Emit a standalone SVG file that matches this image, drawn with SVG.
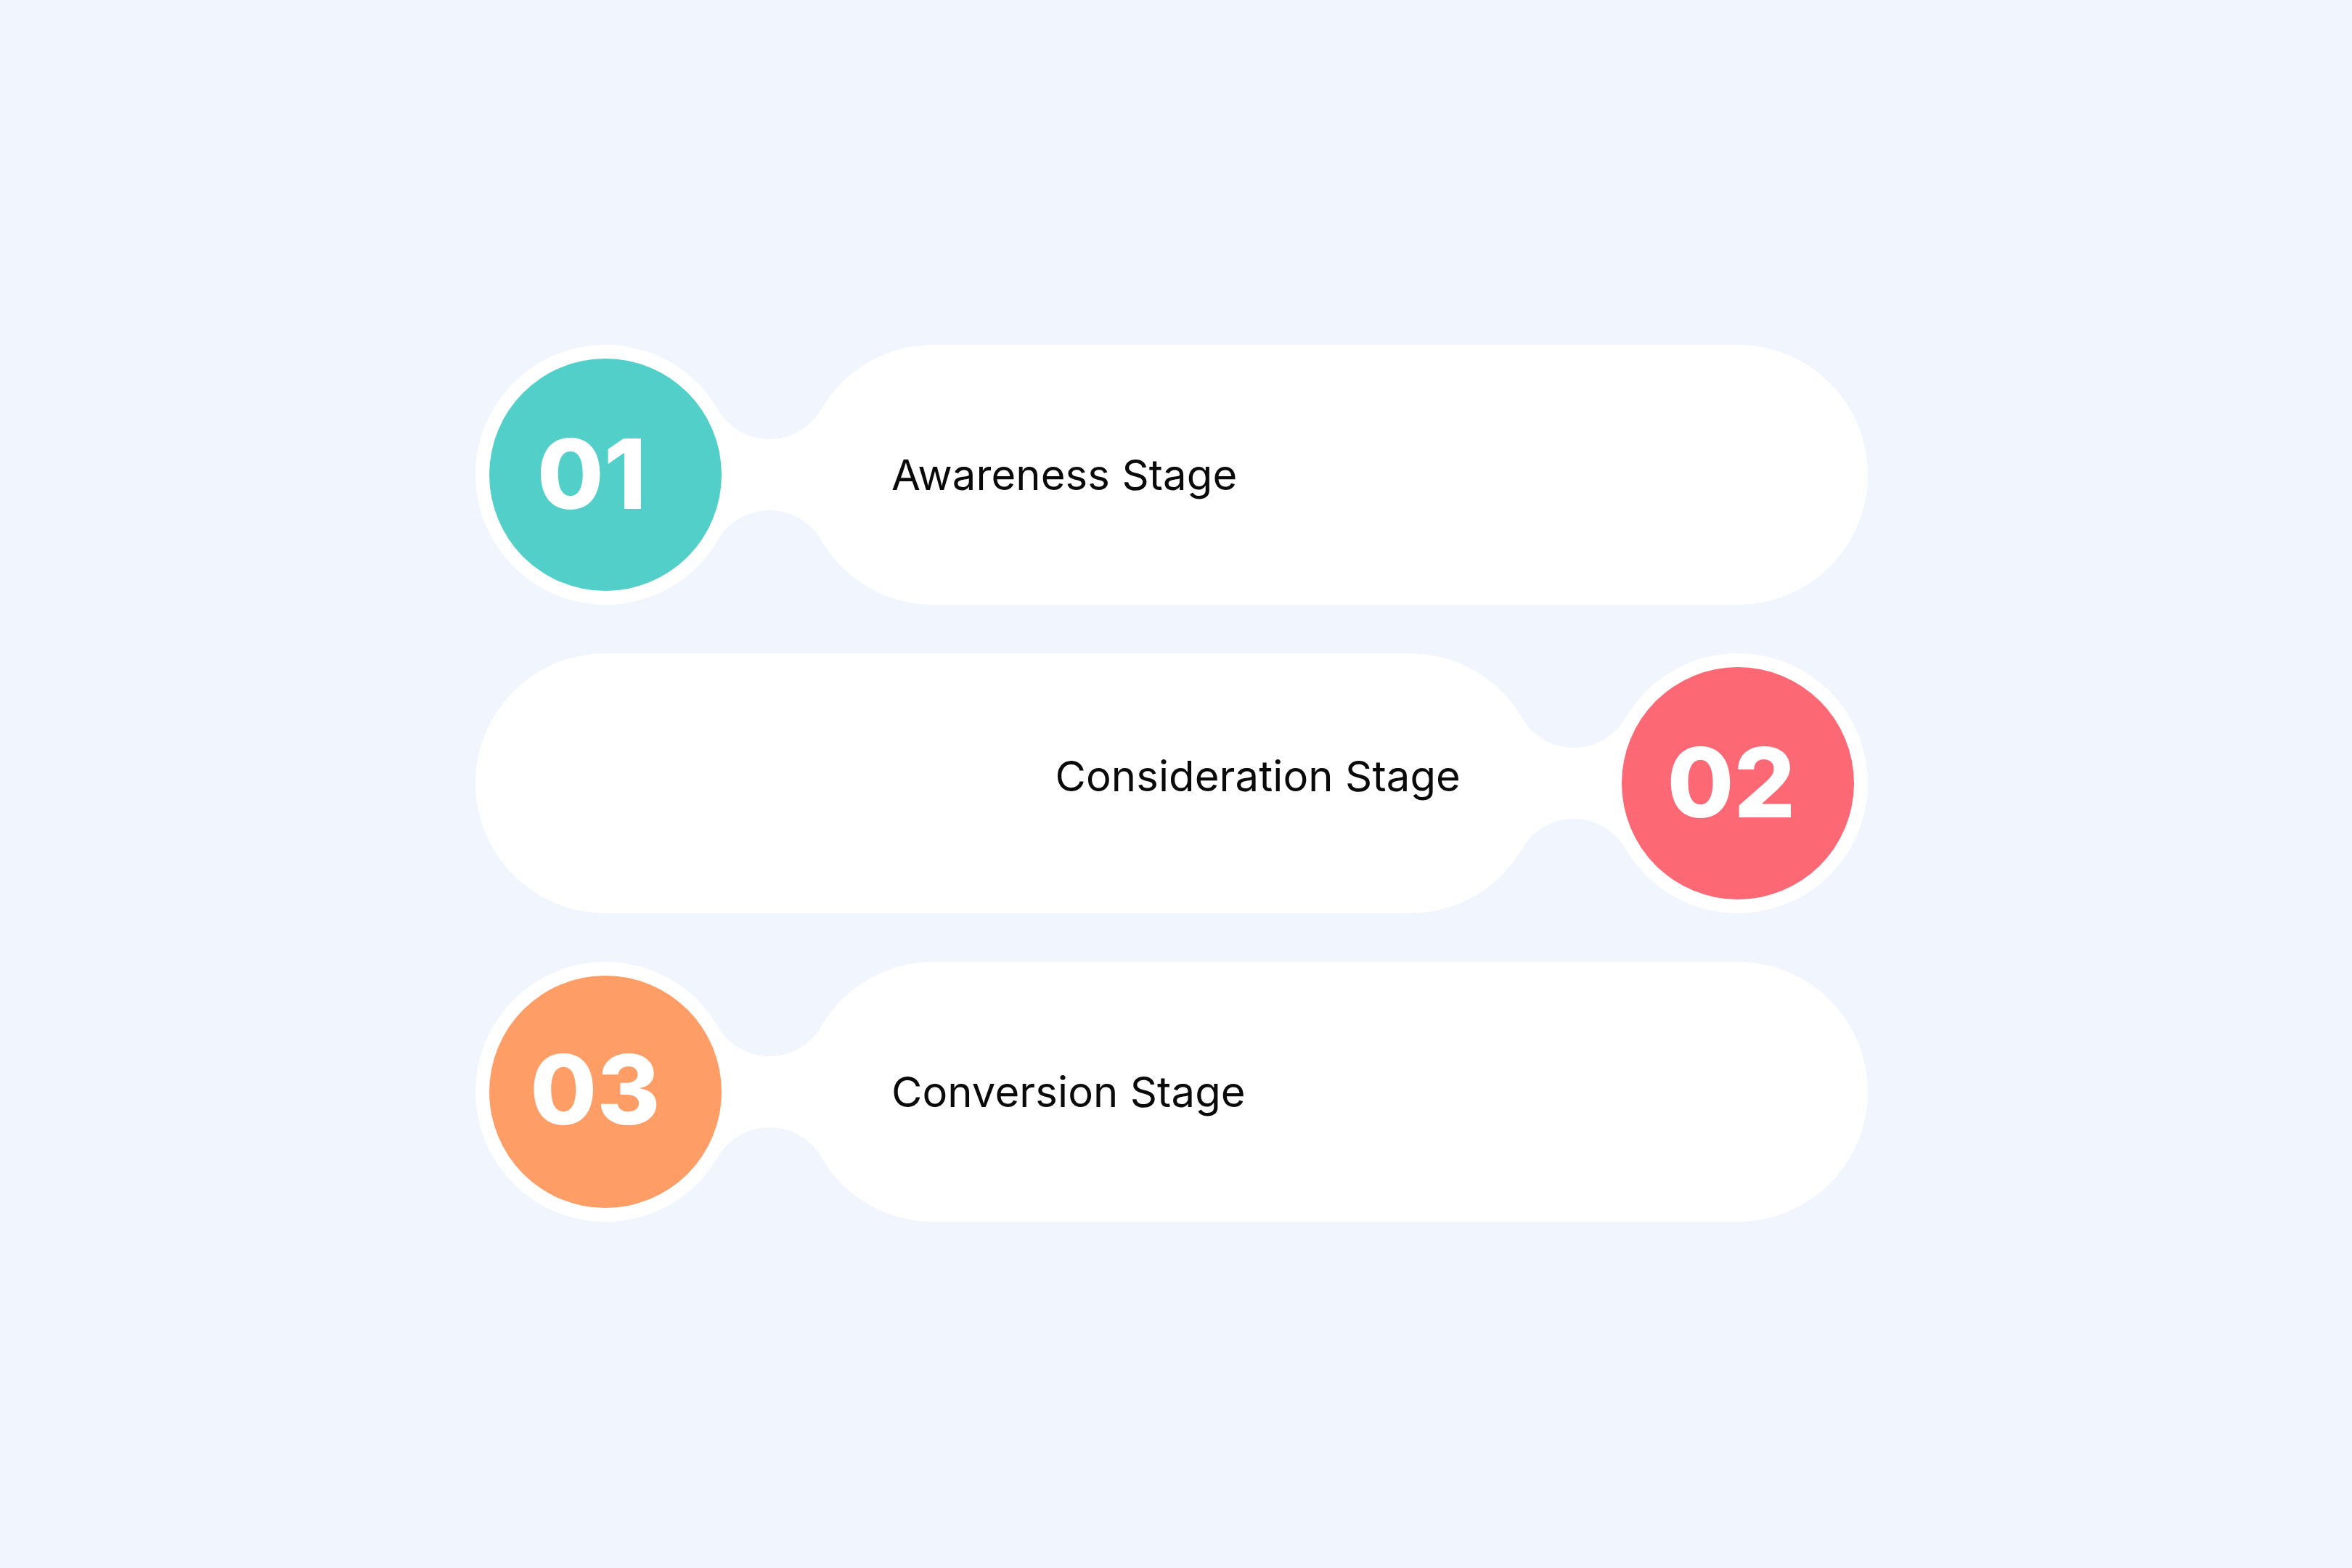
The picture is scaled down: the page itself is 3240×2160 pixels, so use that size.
<svg xmlns="http://www.w3.org/2000/svg" xmlns:xlink="http://www.w3.org/1999/xlink" width="3240" height="2160" viewBox="0 0 3240 2160">
  <style>
    .shape { fill: #FFFFFF; }
    .num { font-family: Inter, "Liberation Sans", sans-serif; font-weight: 800; font-size: 133px; fill: #FFFFFF; text-anchor: middle; }
    .label { font-family: Inter, "Liberation Sans", sans-serif; font-weight: 400; font-size: 58px; letter-spacing: 0.1px; fill: #0A0A0A; }
  </style>
  <defs>
    <path id="pill" d="M 452 -179 H 1560 A 179 179 0 0 1 1560 179 H 452 A 179 179 0 0 1 297.2 90 A 82.4 82.4 0 0 0 154.8 90 A 179 179 0 1 1 154.8 -90 A 82.4 82.4 0 0 0 297.2 -90 A 179 179 0 0 1 452 -179 Z"/>
  </defs>
  <rect width="3240" height="2160" fill="#F0F5FE"/>
  <g id="connectors"></g>
  <g id="stage1">
    <use xlink:href="#pill" href="#pill" class="shape" transform="translate(834,654)"/>
    <circle cx="834" cy="654" r="160" fill="#52CFC9"/>
    <text class="num" x="815" y="701">01</text>
    <text class="label" x="1228" y="675">Awareness Stage</text>
  </g>
  <g id="stage2">
    <use xlink:href="#pill" href="#pill" class="shape" transform="translate(2394,1079) scale(-1,1)"/>
    <circle cx="2394" cy="1079" r="160" fill="#FD6875"/>
    <text class="num" x="2385" y="1126">02</text>
    <text class="label" x="2012" y="1090" text-anchor="end">Consideration Stage</text>
  </g>
  <g id="stage3">
    <use xlink:href="#pill" href="#pill" class="shape" transform="translate(834,1504)"/>
    <circle cx="834" cy="1504" r="160" fill="#FF9D66"/>
    <text class="num" x="820" y="1549">03</text>
    <text class="label" x="1228" y="1525">Conversion Stage</text>
  </g>
</svg>
